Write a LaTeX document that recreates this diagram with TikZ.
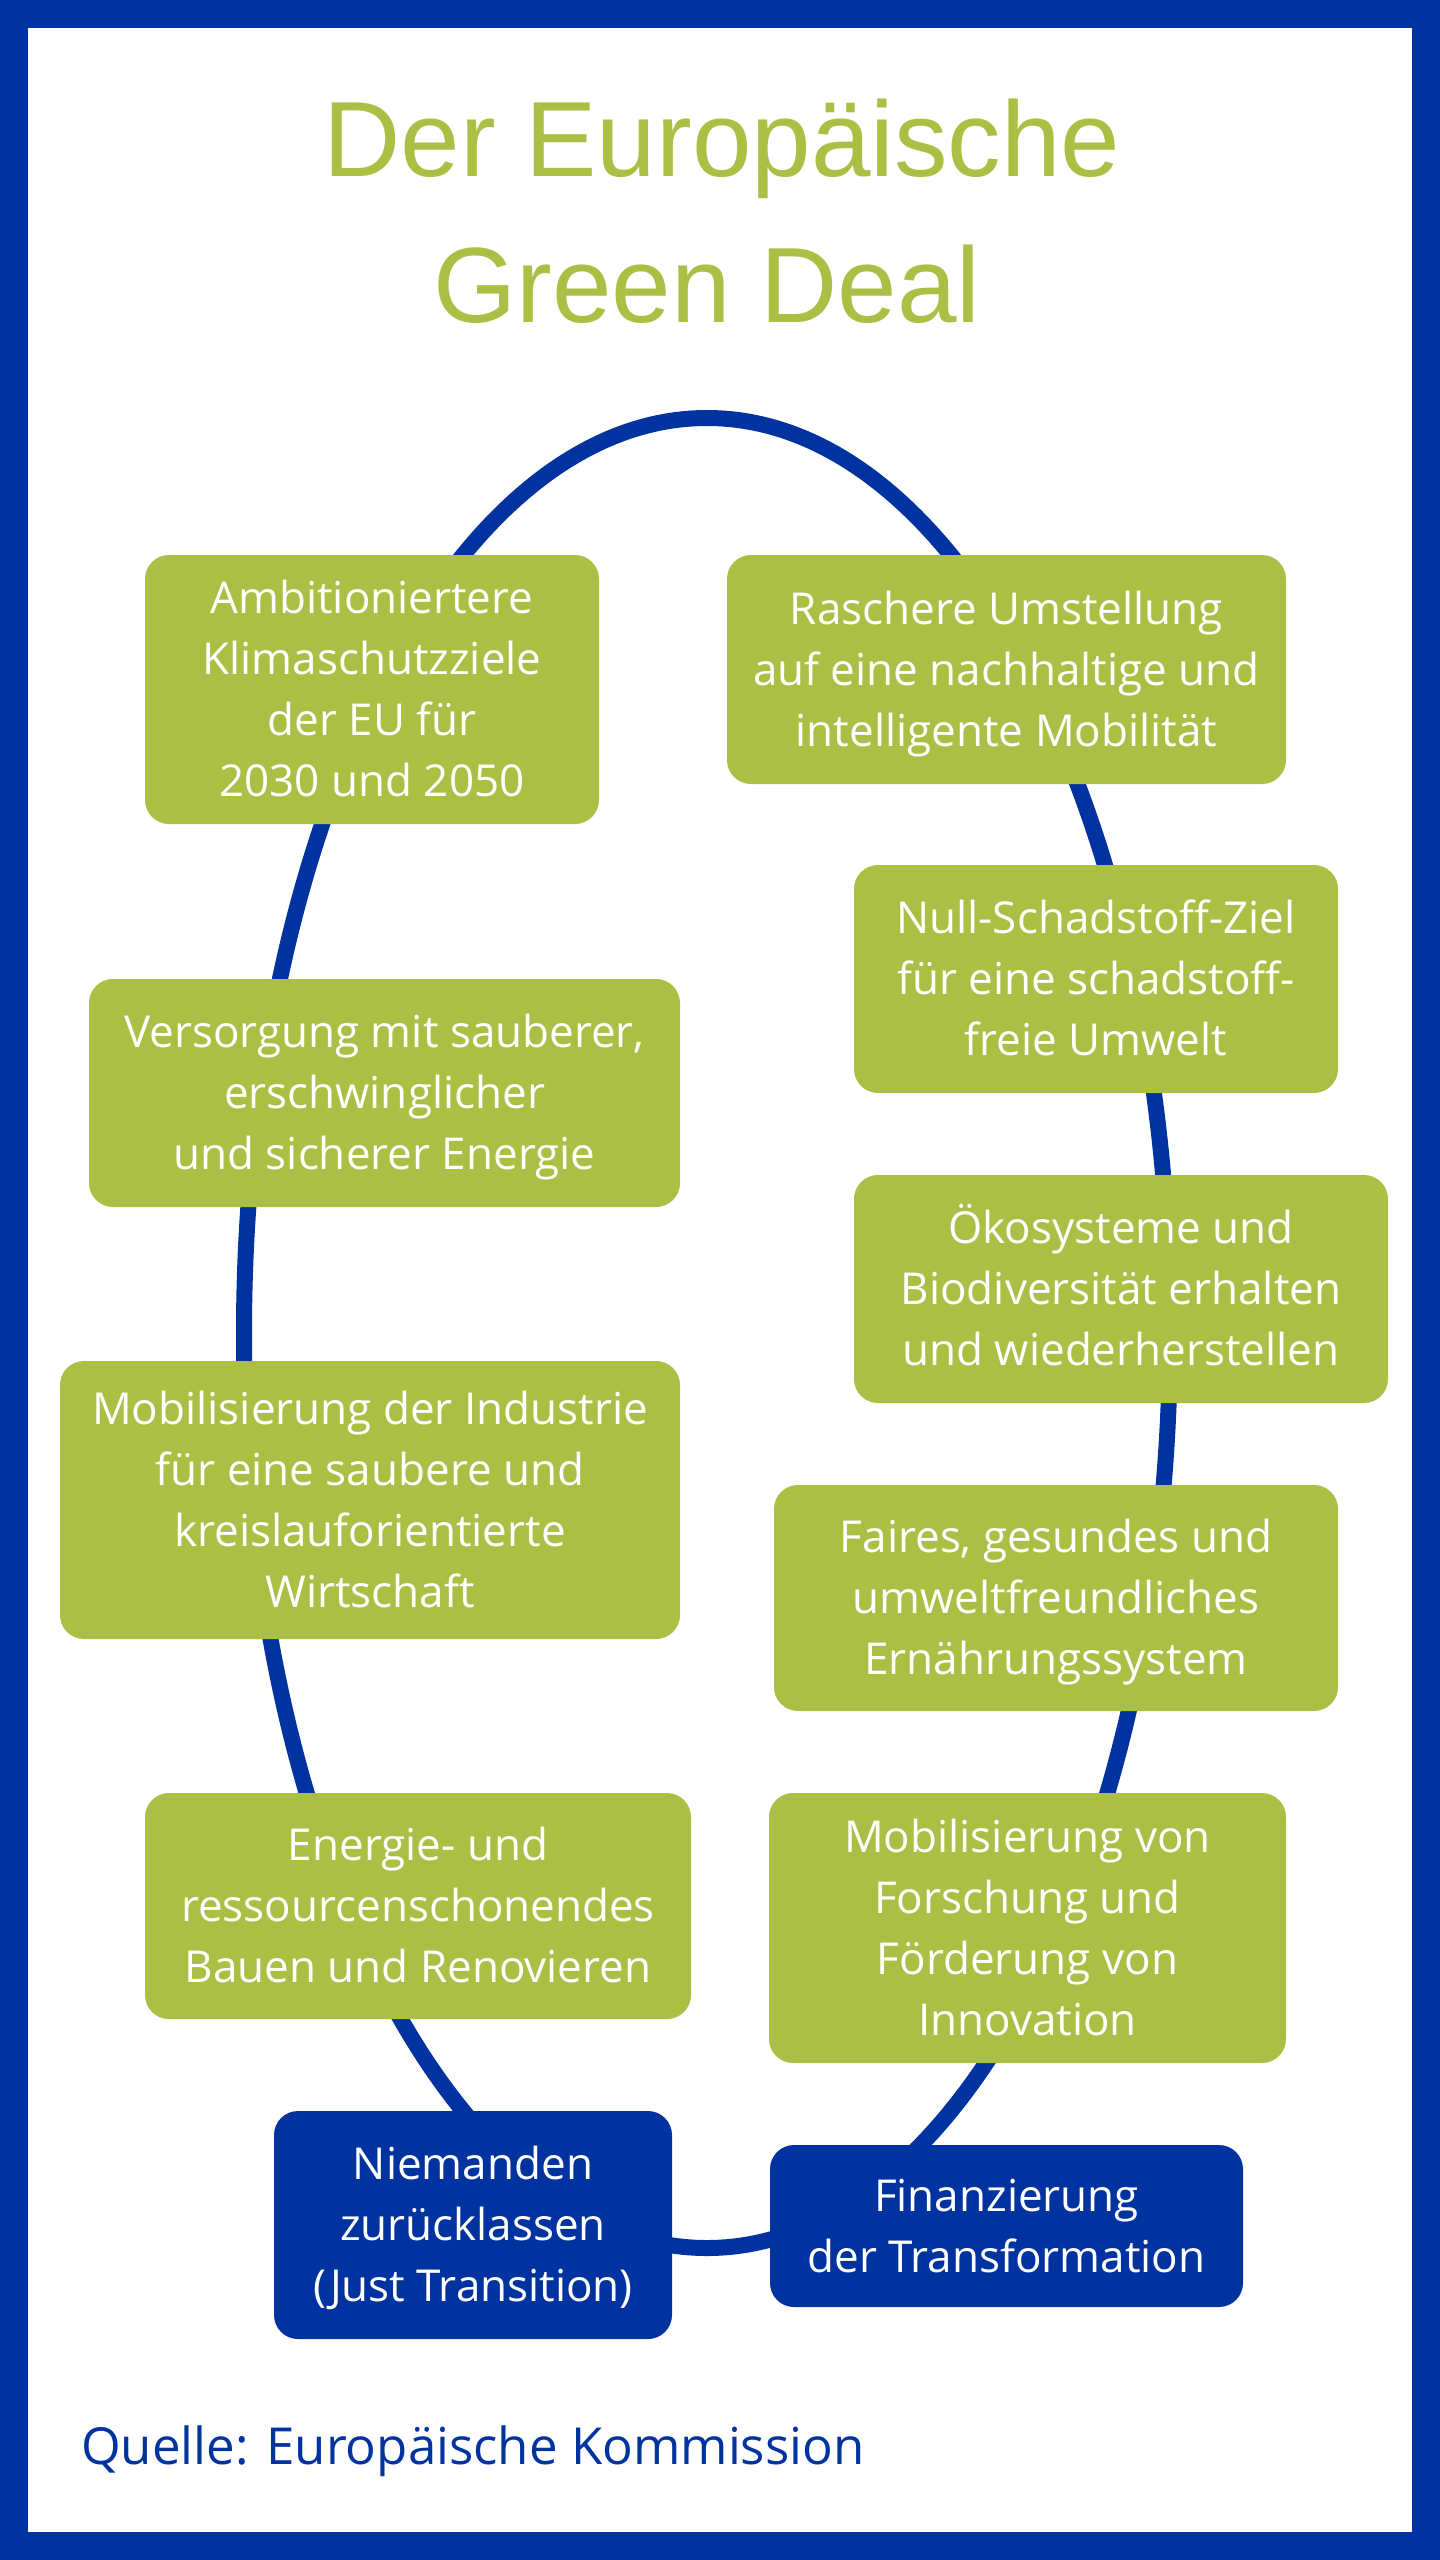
\documentclass[tikz,border=0pt]{standalone}
\usepackage{fontspec}
\setmainfont{Open Sans}
\newfontfamily\titlefont{Liberation Sans}
\definecolor{eublue}{HTML}{0033A0}
\definecolor{eugreen}{HTML}{ACBF45}
\newcommand{\Ln}[1]{\rule{0pt}{31.4pt}\smash{#1}}
\tikzset{
  gbox/.style={rectangle, rounded corners=24pt, inner sep=0pt, align=center,
    text=white, fill=eugreen, font=\fontsize{44}{61}\selectfont},
  bbox/.style={gbox, fill=eublue},
  titletext/.style={anchor=base, inner sep=0pt, text=eugreen,
    font=\titlefont\fontsize{107}{146}\selectfont},
  loopline/.style={draw=eublue, line width=16pt}
}
\begin{document}
\begin{tikzpicture}[x=1pt,y=-1pt]
\useasboundingbox (0,0) rectangle (1440,2560);
\fill[eublue] (0,0) rectangle (1440,2560);
\fill[white] (28,28) rectangle (1412,2532);
% title
\node[titletext] (t1) at (722,176) {Der Europäische};
\node[titletext] (t2) at (707,322) {Green Deal};
% loop
\draw[loopline] (707,1333) ellipse [x radius=463pt, y radius=915pt];
% boxes
\node[gbox, minimum width=454pt, minimum height=269pt] (amb) at (372,689.5)
  {\Ln{Ambitioniertere}\\\Ln{Klimaschutzziele}\\\Ln{der EU für}\\\Ln{2030 und 2050}};
\node[gbox, minimum width=559pt, minimum height=229pt] (ras) at (1006.5,669.5)
  {\Ln{Raschere Umstellung}\\\Ln{auf eine nachhaltige und}\\\Ln{intelligente Mobilität}};
\node[gbox, minimum width=484pt, minimum height=228pt] (null) at (1096,979)
  {\Ln{Null-Schadstoff-Ziel}\\\Ln{für eine schadstoff-}\\\Ln{freie Umwelt}};
\node[gbox, minimum width=591pt, minimum height=228pt] (vers) at (384.5,1093)
  {\Ln{Versorgung mit sauberer,}\\\Ln{erschwinglicher}\\\Ln{und sicherer Energie}};
\node[gbox, minimum width=534pt, minimum height=228pt] (oeko) at (1121,1289)
  {\Ln{Ökosysteme und}\\\Ln{Biodiversität erhalten}\\\Ln{und wiederherstellen}};
\node[gbox, minimum width=620pt, minimum height=278pt] (ind) at (370,1500)
  {\Ln{Mobilisierung der Industrie}\\\Ln{für eine saubere und}\\\Ln{kreislauforientierte}\\\Ln{Wirtschaft}};
\node[gbox, minimum width=564pt, minimum height=226pt] (fair) at (1056,1598)
  {\Ln{Faires, gesundes und}\\\Ln{umweltfreundliches}\\\Ln{Ernährungssystem}};
\node[gbox, minimum width=546pt, minimum height=226pt] (ener) at (418,1906)
  {\Ln{Energie- und}\\\Ln{ressourcenschonendes}\\\Ln{Bauen und Renovieren}};
\node[gbox, minimum width=517pt, minimum height=270pt] (fors) at (1027.5,1928)
  {\Ln{Mobilisierung von}\\\Ln{Forschung und}\\\Ln{Förderung von}\\\Ln{Innovation}};
\node[bbox, minimum width=398pt, minimum height=228pt] (niem) at (473,2225)
  {\Ln{Niemanden}\\\Ln{zurücklassen}\\\Ln{(Just Transition)}};
\node[bbox, minimum width=473pt, minimum height=162pt] (fin) at (1006.5,2226)
  {\Ln{Finanzierung}\\\Ln{der Transformation}};
% source
\node[anchor=base west, inner sep=0pt, text=eublue, font=\fontsize{51}{60}\selectfont]
  (src) at (81,2464) {Quelle: Europäische Kommission};
\end{tikzpicture}
\end{document}
